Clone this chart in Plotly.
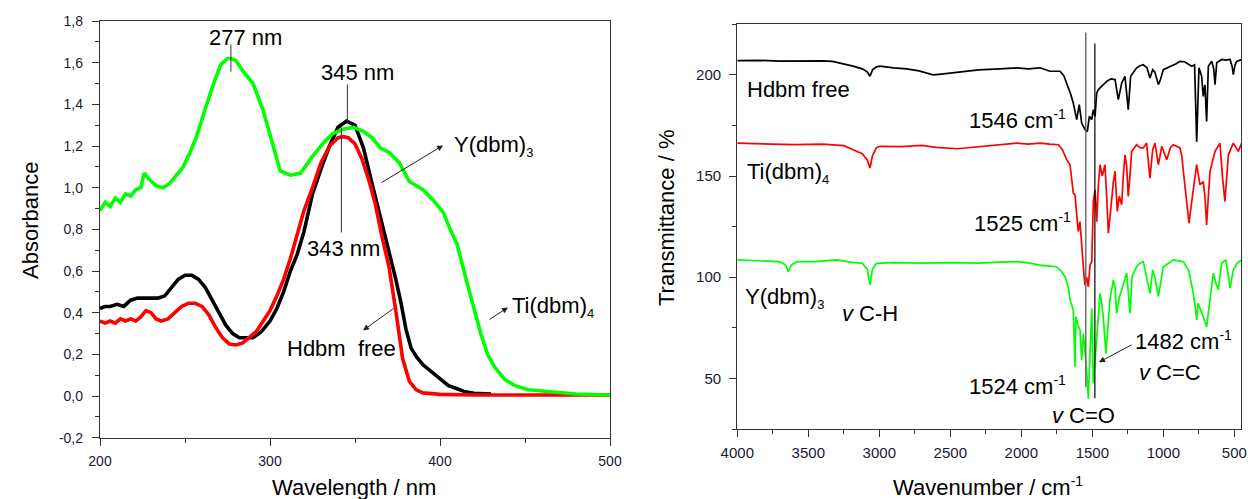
import plotly.graph_objects as go

# ---------------- UV-Vis data (left panel) ----------------
uv_wl_green = [200,203,206,209,212,215,218,221,224,226,229,233,237,241,245,249,253,257,262,266,271,275,277,280,284,290,296,302,306,312,318,325,332,337,343,349,355,360,365,370,376,382,390,396,402,406,410,416,420,424,428,432,438,444,452,465,480,500]
uv_abs_green = [0.89,0.93,0.91,0.95,0.93,0.97,0.96,0.99,1.00,1.07,1.04,1.01,1.00,1.02,1.06,1.10,1.17,1.25,1.38,1.48,1.59,1.62,1.62,1.61,1.56,1.50,1.37,1.19,1.08,1.06,1.07,1.15,1.22,1.26,1.28,1.29,1.27,1.24,1.19,1.17,1.12,1.03,0.99,0.94,0.88,0.80,0.73,0.54,0.42,0.30,0.20,0.14,0.08,0.05,0.03,0.02,0.01,0.005]

uv_wl_black = [200,203,206,210,214,218,222,226,230,234,238,242,246,250,254,258,262,266,270,274,278,282,286,290,295,300,304,308,312,316,320,325,330,335,340,345,350,355,360,365,370,374,377,380,383,386,390,396,400,405,410,415,420,425,430]
uv_abs_black = [0.42,0.43,0.43,0.44,0.43,0.46,0.47,0.47,0.47,0.47,0.48,0.52,0.56,0.58,0.58,0.56,0.52,0.46,0.40,0.34,0.30,0.28,0.28,0.28,0.31,0.36,0.42,0.50,0.60,0.68,0.79,0.97,1.09,1.20,1.29,1.32,1.30,1.19,1.02,0.86,0.70,0.56,0.45,0.32,0.23,0.19,0.15,0.11,0.08,0.05,0.035,0.02,0.013,0.01,0.01]

uv_wl_red = [200,203,206,209,212,215,218,221,224,227,230,233,236,240,244,248,252,256,260,264,268,272,276,280,284,288,292,296,300,304,308,312,316,320,325,330,335,340,343,346,350,354,358,362,366,370,374,378,382,386,390,395,400,420,450,480,500]
uv_abs_red = [0.36,0.35,0.36,0.35,0.37,0.36,0.37,0.36,0.38,0.41,0.40,0.37,0.36,0.37,0.40,0.43,0.445,0.445,0.43,0.39,0.33,0.28,0.25,0.245,0.255,0.28,0.31,0.36,0.41,0.48,0.56,0.66,0.78,0.89,1.00,1.12,1.20,1.24,1.245,1.24,1.21,1.14,1.04,0.92,0.76,0.62,0.41,0.18,0.07,0.03,0.015,0.01,0.008,0.005,0.005,0.005,0.005]

uv_x_ticks = [200, 300, 400, 500]
uv_x_labels = ["200", "300", "400", "500"]
uv_y_ticks = [-0.2, 0.0, 0.2, 0.4, 0.6, 0.8, 1.0, 1.2, 1.4, 1.6, 1.8]
uv_y_labels = ["-0,2", "0,0", "0,2", "0,4", "0,6", "0,8", "1,0", "1,2", "1,4", "1,6", "1,8"]

# ---------------- IR data (right panel) ----------------
ir_wn_black = [4000,3850,3700,3550,3400,3330,3250,3185,3120,3085,3066,3048,3020,2995,2900,2807,2720,2650,2622,2580,2502,2432,2300,2150,2032,1950,1869,1798,1727,1700,1680,1655,1634,1620,1610,1592,1575,1551,1535,1521,1504,1493,1481,1469,1458,1446,1420,1399,1370,1340,1317,1293,1270,1247,1230,1210,1188,1164,1141,1115,1094,1075,1060,1035,1020,1000,970,941,910,883,850,800,780,765,749,730,719,707,695,683,659,645,636,624,589,560,530,515,507,495,483,448]
ir_t_black = [207,207.2,206.8,207,206.9,206.7,205.5,204.3,203,201.5,199.3,202.5,204,204.3,203.5,203,202,200.5,200,200.3,201,201.3,202.5,203,203.5,203,203.5,201.8,201.8,199.5,196,191,186.1,181,177.9,185.3,176.2,172.9,172,179.5,177.9,182.8,179.5,191.1,192.7,193.6,195.5,196.8,198,197.7,187.8,196,199.3,182.8,199.3,201.5,203.5,204.5,205,203.5,198.5,202.6,201.5,195.2,197.7,202.6,203.5,204.3,205.5,206.7,206.5,204.3,205,167,203.5,199.3,189.4,195,177,204.3,206.7,203,195.2,206,207.6,207.3,207.6,204,200.1,205,206.7,207.6]

ir_wn_red = [4000,3800,3600,3400,3250,3185,3120,3085,3066,3048,3020,2995,2850,2700,2600,2450,2300,2150,2032,1950,1869,1800,1739,1710,1680,1657,1634,1622,1610,1599,1587,1575,1563,1552,1540,1528,1516,1504,1493,1481,1469,1458,1446,1430,1411,1399,1387,1375,1363,1352,1340,1324,1310,1293,1282,1270,1258,1247,1235,1223,1188,1164,1141,1118,1094,1075,1059,1035,1011,976,950,930,883,870,859,836,819,800,782,765,742,719,707,695,683,671,636,601,584,566,542,507,472,448]
ir_t_red = [166.3,166,165.5,165.8,165,163,161,158,154,160,164,164.7,164.5,165.2,164.2,163.5,164.5,165.5,166.3,165.8,166.3,165.8,165.5,163,158,155.6,141.6,140.7,131,122.6,127.5,114.4,105.2,96,100,95.3,106,107.7,137.4,143.2,127.5,145,155.6,150,155.6,140,121.8,130,139,147,152.3,132.5,140,135.8,150,160.5,155,139.9,150,162.2,165.5,164,163.9,166.3,149,163,166.3,155.6,164.7,158,164,165.5,163.9,160,152.3,137.4,126.7,137.4,148,155.6,145.7,147.3,140,125.9,140,152.3,162.2,166.3,150,137.4,160.5,166.3,162.2,166.3]

ir_wn_green = [4000,3850,3700,3660,3641,3620,3580,3450,3300,3200,3120,3085,3066,3048,3020,2900,2700,2500,2300,2150,2032,1960,1869,1800,1751,1720,1692,1670,1657,1634,1628,1622,1616,1600,1587,1575,1563,1552,1540,1528,1516,1504,1493,1481,1469,1458,1446,1435,1423,1404,1390,1376,1352,1340,1329,1310,1293,1275,1258,1235,1220,1190,1164,1141,1094,1075,1059,1035,1000,960,930,880,859,820,789,775,765,755,742,730,719,695,683,671,648,630,613,589,560,545,530,507,480,448]
ir_t_green = [108.6,108,107.7,106,102.8,106,107.7,107.7,108.6,107.5,106.9,104,96.2,104,106.9,107.2,107,107.2,107,107.5,107.7,107.2,106,105.5,105.2,103,100.3,95,88.8,83.8,70,55.7,80.5,76,74,59,72.3,65,54,40,59,84.6,47.5,60,70.6,80,92,88,80.5,62.4,75,88.8,98.7,95,82.2,90,93.7,98,102,82.2,100.3,105,106.9,107.7,92,103.6,100,90.4,105.2,107,108.6,108,107.7,103,92,85,78.9,87.1,85,83,80.5,75.5,82,88.8,102,97,93.7,106.9,108.6,102,94.6,103.6,107,108.6]

ir_x_ticks = [4000, 3500, 3000, 2500, 2000, 1500, 1000, 500]
ir_x_labels = ["4000", "3500", "3000", "2500", "2000", "1500", "1000", "500"]
ir_y_ticks = [50, 100, 150, 200]
ir_y_labels = ["50", "100", "150", "200"]

W, H = 1248, 499
FONT = "Liberation Sans, Arial, sans-serif"
TICKCOL = "#1a1a33"
GREEN = "#00ff00"
RED = "#ff0000"
BLACK = "#000000"

fig = go.Figure()

# left panel traces
fig.add_trace(go.Scatter(x=uv_wl_black, y=uv_abs_black, mode="lines", line=dict(color=BLACK, width=3.6), xaxis="x", yaxis="y", showlegend=False))
fig.add_trace(go.Scatter(x=uv_wl_red, y=uv_abs_red, mode="lines", line=dict(color=RED, width=3.6), xaxis="x", yaxis="y", showlegend=False))
fig.add_trace(go.Scatter(x=uv_wl_green, y=uv_abs_green, mode="lines", line=dict(color=GREEN, width=3.6), xaxis="x", yaxis="y", showlegend=False))

# right panel traces
fig.add_trace(go.Scatter(x=ir_wn_black, y=ir_t_black, mode="lines", line=dict(color=BLACK, width=1.7), xaxis="x2", yaxis="y2", showlegend=False))
fig.add_trace(go.Scatter(x=ir_wn_red, y=ir_t_red, mode="lines", line=dict(color=RED, width=1.7), xaxis="x2", yaxis="y2", showlegend=False))
fig.add_trace(go.Scatter(x=ir_wn_green, y=ir_t_green, mode="lines", line=dict(color=GREEN, width=1.7), xaxis="x2", yaxis="y2", showlegend=False))

axis_common = dict(
    showgrid=False, zeroline=False, showline=True, linecolor="#333333", linewidth=1.3,
    mirror=True, ticks="outside", tickcolor="#333333", tickwidth=1.2, ticklen=7,
    automargin=False,
)

fig.update_layout(
    template="none",
    width=W, height=H, margin=dict(l=0, r=0, t=0, b=0, pad=0, autoexpand=False),
    paper_bgcolor="white", plot_bgcolor="white", showlegend=False,
    xaxis=dict(axis_common, domain=[100/W, 610/W], range=[200, 500], anchor="y",
               tickmode="array", tickvals=uv_x_ticks, ticktext=uv_x_labels,
               tickfont=dict(family=FONT, color=TICKCOL, size=14), ticklabelstandoff=3,
               minor=dict(ticks="outside", dtick=50, tick0=200, ticklen=4, tickcolor="#333333", tickwidth=1.2, showgrid=False)),
    yaxis=dict(axis_common, domain=[1-437.7/H, 1-21/H], range=[-0.2, 1.8], anchor="x",
               tickmode="array", tickvals=uv_y_ticks, ticktext=uv_y_labels,
               tickfont=dict(family=FONT, color=TICKCOL, size=14), ticklabelstandoff=6,
               minor=dict(ticks="outside", dtick=0.1, tick0=-0.2, ticklen=4, tickcolor="#333333", tickwidth=1.2, showgrid=False)),
    xaxis2=dict(axis_common, domain=[737.3/W, 1241/W], range=[4000, 453], anchor="y2",
                tickmode="array", tickvals=ir_x_ticks, ticktext=ir_x_labels,
                tickfont=dict(family=FONT, color=TICKCOL, size=15), ticklabelstandoff=3,
                minor=dict(ticks="outside", dtick=250, tick0=500, ticklen=4, tickcolor="#333333", tickwidth=1.2, showgrid=False)),
    yaxis2=dict(axis_common, domain=[1-429/H, 1-24.3/H], range=[25, 225], anchor="x2",
                tickmode="array", tickvals=ir_y_ticks, ticktext=ir_y_labels,
                tickfont=dict(family=FONT, color=TICKCOL, size=15), ticklabelstandoff=5,
                minor=dict(ticks="outside", dtick=25, tick0=25, ticklen=4, tickcolor="#333333", tickwidth=1.2, showgrid=False)),
)

# marker lines
shapes = [
    dict(type="line", xref="x", yref="y", x0=277, x1=277, y0=1.557, y1=1.687, line=dict(color="#333333", width=1)),
    dict(type="line", xref="x", yref="y", x0=345.5, x1=345.5, y0=1.308, y1=1.495, line=dict(color="#333333", width=1)),
    dict(type="line", xref="x", yref="y", x0=342, x1=342, y0=0.785, y1=1.289, line=dict(color="#333333", width=1)),
    dict(type="line", xref="x2", yref="y2", x0=1546, x1=1546, y0=45.7, y1=221, line=dict(color="#666666", width=1.4)),
    dict(type="line", xref="x2", yref="y2", x0=1482, x1=1482, y0=40.2, y1=215.5, line=dict(color="#000000", width=1.2)),
]
fig.update_layout(shapes=shapes)

AF = dict(family=FONT, size=22, color="black")
ann = []

def sub(s):
    return "<sub><span style='font-size:13px'>" + s + "</span></sub>"

def sup(s):
    return "<sup><span style='font-size:14px'>" + s + "</span></sup>"

def txt(text, x, y, xr, yr, xanchor="center", size=22):
    ann.append(dict(text=text, x=x, y=y, xref=xr, yref=yr, xanchor=xanchor, yanchor="middle",
                    showarrow=False, font=dict(family=FONT, size=size, color="black")))

def arrow(x, y, ax, ay, xr, yr):
    ann.append(dict(text="", x=x, y=y, ax=ax, ay=ay, xref=xr, yref=yr, axref=xr, ayref=yr,
                    showarrow=True, arrowhead=2, arrowsize=1.2, arrowwidth=1, arrowcolor="#222222", standoff=0))

# left annotations
txt("277 nm", 285.3, 1.72, "x", "y")
txt("345 nm", 351.2, 1.553, "x", "y")
txt("343 nm", 343, 0.708, "x", "y")
txt("Y(dbm)" + sub("3"), 407, 1.20, "x", "y", xanchor="left")
txt("Ti(dbm)" + sub("4"), 441.2, 0.425, "x", "y", xanchor="left")
txt("Hdbm  free", 342, 0.229, "x", "y")
arrow(401.8, 1.203, 364.7, 1.020, "x", "y")
arrow(440, 0.425, 428.2, 0.363, "x", "y")
arrow(354.7, 0.315, 373.5, 0.425, "x", "y")

# right annotations
txt("Hdbm free", 3946, 192.7, "x2", "y2", xanchor="left")
txt("Ti(dbm)" + sub("4"), 3946, 151.6, "x2", "y2", xanchor="left")
txt("Y(dbm)" + sub("3"), 3960, 89.7, "x2", "y2", xanchor="left")
txt("<i>v</i> C-H", 3277, 82.3, "x2", "y2", xanchor="left")
txt("1546 cm" + sup("-1"), 2382, 178, "x2", "y2", xanchor="left")
txt("1525 cm" + sup("-1"), 2347, 127, "x2", "y2", xanchor="left")
txt("1524 cm" + sup("-1"), 2382, 46.5, "x2", "y2", xanchor="left")
txt("<i>v</i> C=O", 1798, 31.9, "x2", "y2", xanchor="left")
txt("1482 cm" + sup("-1"), 1213, 68.5, "x2", "y2", xanchor="left")
txt("<i>v</i> C=C", 1185, 53, "x2", "y2", xanchor="left")
arrow(1453, 58, 1213, 67, "x2", "y2")

# axis titles
ann.append(dict(text="Absorbance", x=30/W, y=1-221/H, xref="paper", yref="paper", textangle=-90,
                showarrow=False, xanchor="center", yanchor="middle", font=AF))
ann.append(dict(text="Wavelength / nm", x=354/W, y=1-487/H, xref="paper", yref="paper",
                showarrow=False, xanchor="center", yanchor="middle", font=AF))
ann.append(dict(text="Transmittance / %", x=666/W, y=1-218/H, xref="paper", yref="paper", textangle=-90,
                showarrow=False, xanchor="center", yanchor="middle", font=AF))
ann.append(dict(text="Wavenumber / cm" + sup("-1"), x=988/W, y=1-486/H, xref="paper", yref="paper",
                showarrow=False, xanchor="center", yanchor="middle", font=AF))

fig.update_layout(annotations=ann)

fig.write_html("out.html")
